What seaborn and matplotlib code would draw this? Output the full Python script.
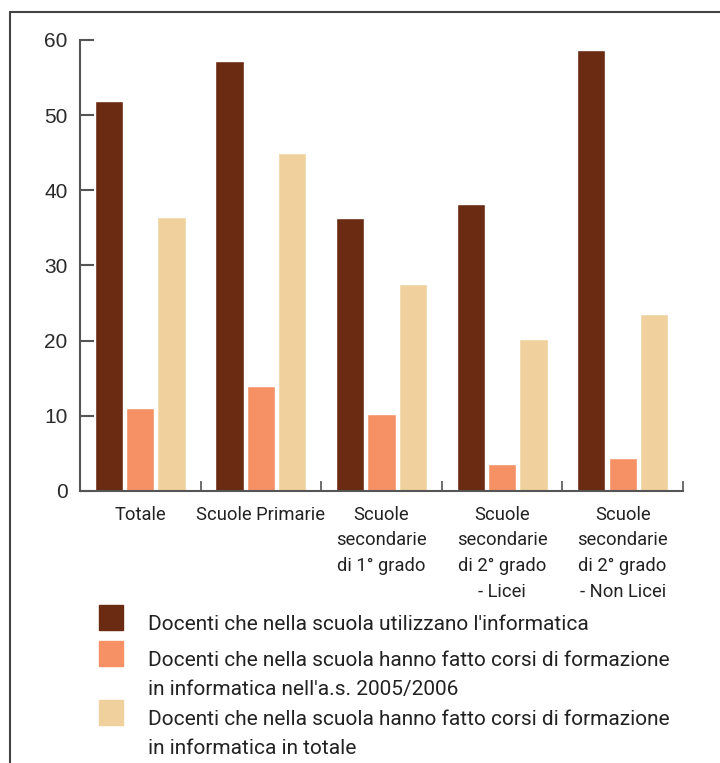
import pandas as pd
import numpy as np
import seaborn as sns
import matplotlib.pyplot as plt
from matplotlib.lines import Line2D
from matplotlib.patches import Rectangle

sns.set_style("white")

categorie = ["Totale", "Scuole Primarie", "Scuole\nsecondarie\ndi 1° grado",
             "Scuole\nsecondarie\ndi 2° grado\n- Licei", "Scuole\nsecondarie\ndi 2° grado\n- Non Licei"]
serie = ["Docenti che nella scuola utilizzano l'informatica",
         "Docenti che nella scuola hanno fatto corsi di formazione\nin informatica nell'a.s. 2005/2006",
         "Docenti che nella scuola hanno fatto corsi di formazione\nin informatica in totale"]
utilizzano = [51.9, 57.2, 36.3, 38.2, 58.7]
corsi_0506 = [11.0, 14.0, 10.2, 3.6, 4.4]
corsi_totale = [36.5, 45.0, 27.5, 20.2, 23.5]
colori = ["#6B2A12", "#F59165", "#F0D19E"]

df = pd.DataFrame({
    "categoria": categorie * 3,
    "serie": [serie[0]] * 5 + [serie[1]] * 5 + [serie[2]] * 5,
    "valore": utilizzano + corsi_0506 + corsi_totale,
})

fig = plt.figure(figsize=(7.2, 7.63), dpi=100)
ax = fig.add_axes([0.111, 0.3565, 0.8376, 0.5911])

sns.barplot(data=df, x="categoria", y="valore", hue="serie", order=categorie,
            hue_order=serie, palette=colori, width=0.78, gap=0.1,
            saturation=1, legend=False, ax=ax)

grigio = "#555555"
ax.set_xlim(-0.5, 4.5)
ax.set_ylim(0, 60)
ax.set_yticks([0, 10, 20, 30, 40, 50, 60])
ax.set_xlabel("")
ax.set_ylabel("")
sns.despine(ax=ax)
for s in ["left", "bottom"]:
    ax.spines[s].set_color(grigio)
    ax.spines[s].set_linewidth(1.5)

ax.tick_params(axis="y", left=True, direction="in", length=10, width=1.5, color=grigio,
               pad=9, labelsize=15, labelcolor="#2a2a2a")
for t in ax.get_yticklabels():
    t.set_family("Liberation Sans")
ax.set_xticks(np.arange(-0.5, 5, 1), minor=True)
ax.tick_params(axis="x", which="major", bottom=False, length=0, pad=10.5,
               labelsize=13.2, labelcolor="#222222")
ax.tick_params(axis="x", which="minor", bottom=True, direction="in", length=7,
               width=1.2, color=grigio)
for t in ax.get_xticklabels():
    t.set_family("Roboto")
    t.set_linespacing(1.55)
    t.set_verticalalignment("top")

# legenda sotto il grafico
W, H = 720, 763
y_quadrati = [605, 641, 700]
for lab, col, yq in zip(serie, colori, y_quadrati):
    fig.patches.append(Rectangle((99 / W, 1 - (yq + 25) / H), 24 / W, 25 / H,
                                 transform=fig.transFigure, color=col))
    for i, riga in enumerate(lab.split("\n")):
        fig.text(148 / W, 1 - (yq + 25 + 28.5 * i) / H, riga, fontsize=15,
                 family="Roboto", color="#222222", va="baseline", ha="left")

# cornice
fig.add_artist(Line2D([10 / W, 10 / W], [0, 1 - 12 / H], color="#444444", lw=1.5))
fig.add_artist(Line2D([10 / W, 1], [1 - 12 / H, 1 - 12 / H], color="#444444", lw=1.5))

plt.savefig("out.png", dpi=100)
